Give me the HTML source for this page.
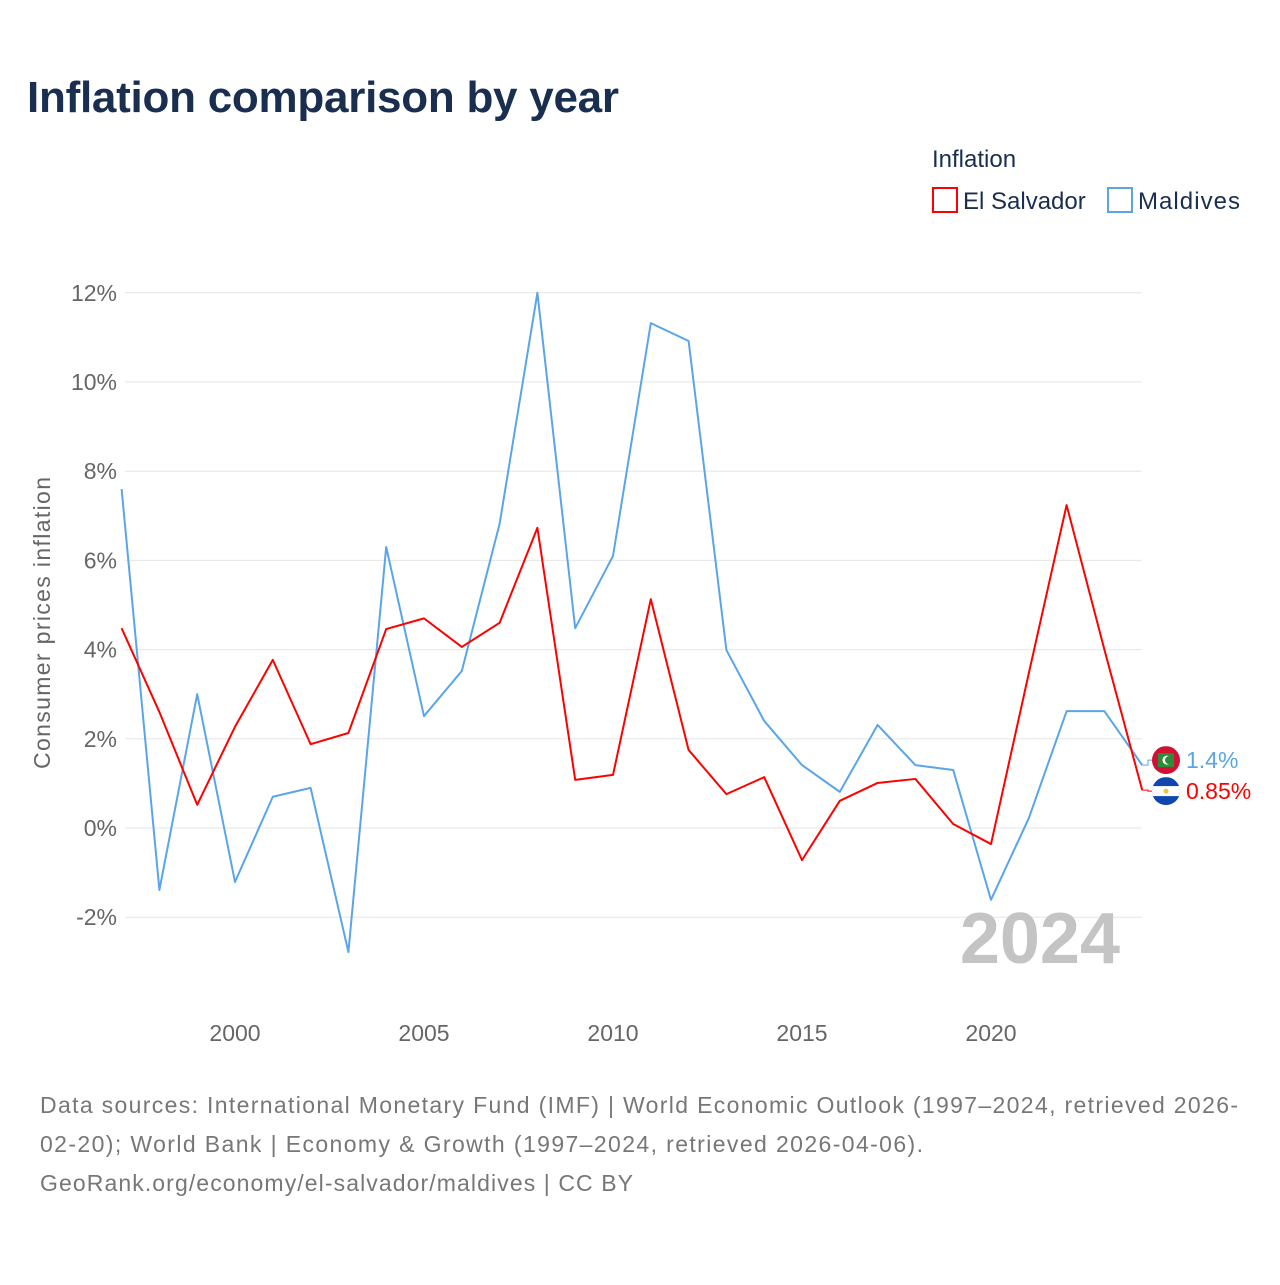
<!DOCTYPE html>
<html><head><meta charset="utf-8"><style>
body{margin:0;width:1280px;height:1280px;background:#fff;font-family:"Liberation Sans",sans-serif;overflow:hidden}
svg text{font-family:"Liberation Sans",sans-serif}
</style></head><body>
<svg id="chart" width="1280" height="1280" xmlns="http://www.w3.org/2000/svg">
<text x="27" y="112" font-size="44" font-weight="bold" fill="#1a2e50" textLength="592">Inflation comparison by year</text>
<text x="932" y="167" font-size="24" fill="#1a2e50">Inflation</text>
<g><rect x="933" y="188" width="24" height="24" fill="none" stroke="#ff0000" stroke-width="2"/><text x="963" y="209" font-size="24" fill="#1a2e50">El Salvador</text></g>
<g><rect x="1108" y="188" width="24" height="24" fill="none" stroke="#5aa5ea" stroke-width="2"/><text x="1138" y="209" font-size="24" fill="#1a2e50" textLength="102">Maldives</text></g>
<g id="grid"></g><g id="yticks"></g><g id="xticks"></g>
<text x="1120" y="963" font-size="72" font-weight="bold" fill="#c4c4c4" text-anchor="end">2024</text>
<text transform="translate(50,623) rotate(-90)" font-size="23" fill="#666" text-anchor="middle" textLength="292">Consumer prices inflation</text>
<g id="series"></g>
<g font-size="23" fill="#777">
<text x="40" y="1113" textLength="1198">Data sources: International Monetary Fund (IMF) | World Economic Outlook (1997–2024, retrieved 2026-</text>
<text x="40" y="1152" textLength="883">02-20); World Bank | Economy &amp; Growth (1997–2024, retrieved 2026-04-06).</text>
<text x="40" y="1191" textLength="593">GeoRank.org/economy/el-salvador/maldives | CC BY</text>
</g>
</svg>
<script>
const years=[1997,1998,1999,2000,2001,2002,2003,2004,2005,2006,2007,2008,2009,2010,2011,2012,2013,2014,2015,2016,2017,2018,2019,2020,2021,2022,2023,2024];
const elSalvador=[4.48,2.6,0.52,2.27,3.77,1.88,2.13,4.46,4.7,4.06,4.6,6.73,1.08,1.19,5.13,1.75,0.76,1.14,-0.72,0.61,1.01,1.1,0.09,-0.36,3.47,7.24,4.0,0.85];
const maldives=[7.6,-1.39,3.0,-1.21,0.7,0.9,-2.78,6.3,2.51,3.52,6.82,12.0,4.48,6.1,11.32,10.92,3.99,2.4,1.41,0.81,2.31,1.41,1.3,-1.61,0.22,2.62,2.62,1.41];
const yTicks=[-2,0,2,4,6,8,10,12];
const xTicks=[2000,2005,2010,2015,2020];
const NS="http://www.w3.org/2000/svg";
const x=v=>121.6+(v-1997)*37.8;
const y=v=>828-v*44.6;
function mk(t,a,p){const e=document.createElementNS(NS,t);for(const k in a)e.setAttribute(k,a[k]);p.appendChild(e);return e;}
const grid=document.getElementById('grid'),yt=document.getElementById('yticks'),xt=document.getElementById('xticks'),ser=document.getElementById('series');
yTicks.forEach(v=>{
 const l=mk('line',{x1:125,x2:1142,y1:y(v),y2:y(v),stroke:'#e6e6e6','stroke-width':1},grid);
 
 
 const t=mk('text',{x:117,y:y(v)+8,'font-size':23,fill:'#666','text-anchor':'end'},yt);
 t.textContent=v+'%';
 
 
});
xTicks.forEach(v=>{
 const t=mk('text',{x:x(v),y:1041,'font-size':23,fill:'#666','text-anchor':'middle'},xt);
 t.textContent=v;
 
 
});
function line(vals,col,name){
 const p=mk('polyline',{points:vals.map((v,i)=>x(years[i])+','+y(v)).join(' '),fill:'none',stroke:col,'stroke-width':2,'stroke-linejoin':'round'},ser);
 
 
}
line(maldives,'#5aa5ea','maldives-line');
line(elSalvador,'#ff0000','el-salvador-line');
const defs=mk('defs',{},ser);
function endLabel(v,col,name,txt,dy,kind){
 const ly=y(v)+dy, yv=y(v);
 mk('polyline',{points:`${x(2024)},${yv} 1148,${yv} 1148,${ly} 1152,${ly}`,fill:'none',stroke:col,'stroke-width':1},ser);
 const cp=mk('clipPath',{id:'cp-'+name},defs);
 mk('circle',{cx:1166,cy:ly,r:14},cp);
 const g=mk('g',{'clip-path':'url(#cp-'+name+')'},ser);
 
 
 if(kind==='mv'){
  mk('rect',{x:1152,y:ly-14,width:28,height:28,fill:'#d21034'},g);
  mk('rect',{x:1158,y:ly-7,width:16,height:14,fill:'#2e8b3a'},g);
  mk('circle',{cx:1167,cy:ly,r:4.5,fill:'#fff'},g);
  mk('circle',{cx:1169,cy:ly,r:4,fill:'#2e8b3a'},g);
 } else {
  mk('rect',{x:1152,y:ly-14,width:28,height:28,fill:'#0f47af'},g);
  mk('rect',{x:1152,y:ly-5,width:28,height:10,fill:'#fff'},g);
  mk('circle',{cx:1166,cy:ly,r:2.5,fill:'#e8c840'},g);
 }
 const t=mk('text',{x:1186,y:ly+8,'font-size':23,fill:col},ser);
 t.textContent=txt;
 
 
}
endLabel(maldives[27],'#5aa5ea','maldives','1.4%',-5,'mv');
endLabel(elSalvador[27],'#ff0000','el-salvador','0.85%',1,'sv');
</script>
</body></html>
